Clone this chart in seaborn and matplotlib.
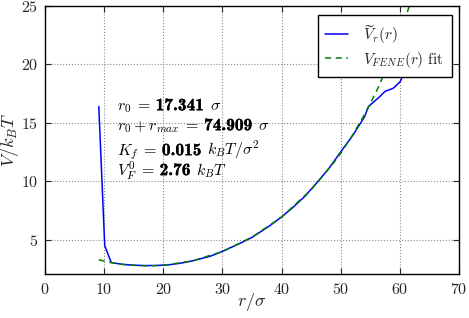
import numpy as np
import pandas as pd
import matplotlib
matplotlib.use('Agg')
import matplotlib.pyplot as plt
import matplotlib.patheffects as pe
from matplotlib.transforms import IdentityTransform
import seaborn as sns

r_meas = [9.1, 10.1, 11.2, 13, 15, 17, 19, 21, 23, 25, 28, 30, 33, 35, 38, 40,
          42, 44, 46, 48, 50.4, 52, 54, 54.7, 56.6, 57.5, 58.9, 60.0, 61.0, 61.8]
v_meas = [16.4, 4.5, 3.05, 2.9, 2.82, 2.79, 2.8, 2.86, 3.0, 3.2, 3.6, 4.0, 4.7,
          5.2, 6.2, 6.95, 7.8, 8.75, 9.9, 11.1, 12.8, 13.9, 15.5, 16.4, 17.25,
          17.7, 17.97, 18.5, 19.5, 23.0]

# FENE fit curve
r_fit = [9.1, 10, 12, 14, 17.34, 20, 25, 30, 35, 40, 45, 49, 50, 52, 54, 56,
         58, 60, 61, 62]
v_fit = [3.29, 3.17, 2.97, 2.84, 2.76, 2.81, 3.20, 3.99, 5.22, 6.94, 9.28,
         11.71, 12.41, 13.95, 15.69, 17.66, 19.93, 22.56, 24.04, 25.65]

# fit parameters: (left side, bold value, unit)
param_lhs = [r'$r_0\;=$', r'$r_0 + r_{max}\;=$', r'$K_f\;=$', r'$V_F^0\;=$']
param_val = ['17.341', '74.909', '0.015', '2.76']
param_unit = [r'$\sigma$', r'$\sigma$', r'$k_BT/\sigma^2$', r'$k_BT$']
param_y = [16.085, 14.376, 12.239, 10.53]

sns.set_style("ticks")
plt.rcParams.update({
    'font.family': 'serif',
    'font.serif': ['cmr10', 'DejaVu Serif'],
    'mathtext.fontset': 'cm',
    'axes.formatter.use_mathtext': True,
    'font.size': 11.5,
    'xtick.direction': 'in',
    'ytick.direction': 'in',
    'xtick.top': True,
    'ytick.right': True,
    'axes.edgecolor': 'black',
    'axes.linewidth': 1.0,
})

df_meas = pd.DataFrame({'r': r_meas, 'V': v_meas})
df_fit = pd.DataFrame({'r': r_fit, 'V': v_fit})

fig = plt.figure(figsize=(4.69, 3.18), dpi=100)
ax = fig.add_axes([0.0959, 0.1384, 0.8828, 0.8426])

sns.lineplot(data=df_meas, x='r', y='V', ax=ax, color='#0000ff', lw=1.1,
             sort=False, estimator=None, label=r'$\widetilde{V}_r(r)$')
sns.lineplot(data=df_fit, x='r', y='V', ax=ax, color='#008000', lw=1.1,
             sort=False, estimator=None, linestyle=(0, (4, 3)),
             label=r'$V_{FENE}(r)$ fit')

ax.set_xlim(0, 70)
ax.set_ylim(2.07, 25)
ax.set_xticks(range(0, 71, 10))
ax.set_yticks([5, 10, 15, 20, 25])
ax.grid(True, color='0.55', linestyle=':', linewidth=0.8)
ax.tick_params(labelsize=11.5, length=4, width=0.8)
ax.tick_params(axis='x', pad=6)
ax.tick_params(axis='y', pad=5)
ax.set_xlabel(r'$r/\sigma$', fontsize=13)
ax.set_ylabel(r'$V/k_BT$', fontsize=13)
ax.xaxis.set_label_coords(0.5, -0.063)
ax.yaxis.set_label_coords(-0.058, 0.5)

leg = ax.legend(loc='upper right', bbox_to_anchor=(0.983, 0.966),
                borderaxespad=0, fontsize=11, frameon=True, fancybox=False,
                framealpha=1.0, edgecolor='black', handlelength=1.5,
                handletextpad=1.0, labelspacing=0.25, borderpad=0.5)
leg.get_frame().set_linewidth(1.0)

# parameter block, pieces laid out left to right in pixels
renderer = fig.canvas.get_renderer()
for lhs, val, unit, yy in zip(param_lhs, param_val, param_unit, param_y):
    x, y = ax.transData.transform((12.2, yy))
    for s, gap, bold in [(lhs, 0, False), (val, 4.5, True), (unit, 5.5, False)]:
        t = ax.text(x + gap, y, s, transform=IdentityTransform(), fontsize=11.5,
                    va='baseline', ha='left', color='black')
        if bold:
            t.set_fontfamily('cmb10')
            t.set_fontsize(12.5)
            t.set_path_effects([pe.withStroke(linewidth=0.2, foreground='black')])
        x = t.get_window_extent(renderer).x1

fig.savefig('out.png', dpi=100)
